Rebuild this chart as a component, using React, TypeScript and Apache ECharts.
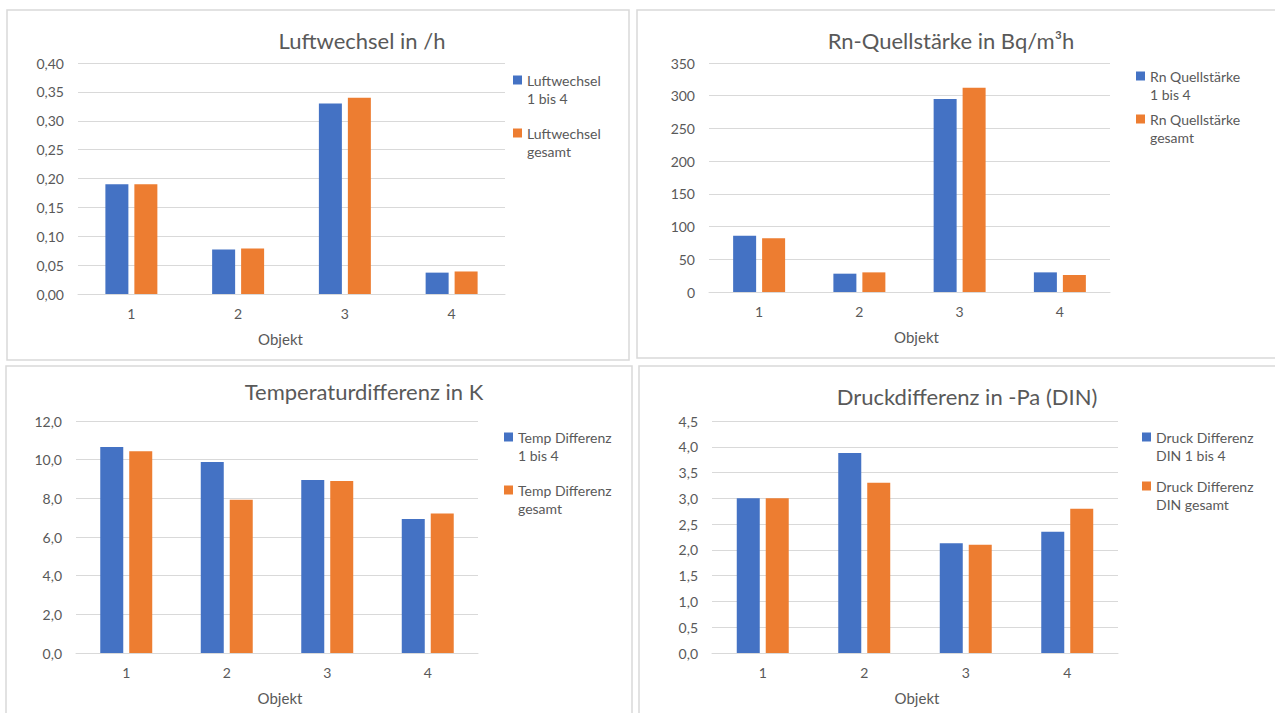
import React, { useEffect, useRef } from "react";
import * as echarts from "echarts";

const categories = ["1", "2", "3", "4"];

const luftName1 = "Luftwechsel\n1 bis 4";
const luftName2 = "Luftwechsel\ngesamt";
const luftwechsel14 = [0.19, 0.077, 0.33, 0.037];
const luftwechselGesamt = [0.19, 0.079, 0.34, 0.039];

const rnName1 = "Rn Quellstärke\n1 bis 4";
const rnName2 = "Rn Quellstärke\ngesamt";
const rn14 = [86, 28, 295, 30];
const rnGesamt = [82, 30, 312, 26];

const tempName1 = "Temp Differenz\n1 bis 4";
const tempName2 = "Temp Differenz\ngesamt";
const temp14 = [10.65, 9.88, 8.95, 6.93];
const tempGesamt = [10.43, 7.93, 8.9, 7.21];

const druckName1 = "Druck Differenz\nDIN 1 bis 4";
const druckName2 = "Druck Differenz\nDIN gesamt";
const druck14 = [3.0, 3.88, 2.13, 2.35];
const druckGesamt = [3.0, 3.3, 2.1, 2.8];

const titles = [
  "Luftwechsel in /h",
  "Rn-Quellstärke in Bq/m³h",
  "Temperaturdifferenz in K",
  "Druckdifferenz in -Pa (DIN)",
];
const xAxisTitle = "Objekt";

const BLUE = "#4472C4";
const ORANGE = "#ED7D31";
const TXT = "#595959";
const GRID = "#D9D9D9";
const FONT = "Lato, 'Open Sans', sans-serif";

export default function App() {
  const ref = useRef<HTMLDivElement>(null);
  useEffect(() => {
    if (!ref.current) return;
    const chart = echarts.init(ref.current, null, { renderer: "svg" });

    const grids = [
      { left: 78, top: 63, width: 427, height: 231 },
      { left: 709, top: 63, width: 401, height: 229 },
      { left: 76, top: 421, width: 402, height: 232 },
      { left: 712, top: 421, width: 406, height: 232 },
    ];
    const yCfg = [
      { max: 0.4, interval: 0.05, dec: 2 },
      { max: 350, interval: 50, dec: 0 },
      { max: 12, interval: 2, dec: 1 },
      { max: 4.5, interval: 0.5, dec: 1 },
    ];
    const nameShift = [22, -14, -6, -4];

    const titleDefs = [
      { x: 362, y: 41 },
      { x: 951, y: 41 },
      { x: 364, y: 392 },
      { x: 967, y: 397 },
    ];

    const legendDefs = [
      { name: luftName1, x: 513, y: 80 },
      { name: luftName2, x: 513, y: 133 },
      { name: rnName1, x: 1136, y: 76 },
      { name: rnName2, x: 1136, y: 119 },
      { name: tempName1, x: 504, y: 437 },
      { name: tempName2, x: 504, y: 490 },
      { name: druckName1, x: 1142, y: 437 },
      { name: druckName2, x: 1142, y: 486 },
    ];
    const LH = 18.5;

    const seriesDefs = [
      [luftName1, luftwechsel14, BLUE, 0],
      [luftName2, luftwechselGesamt, ORANGE, 0],
      [rnName1, rn14, BLUE, 1],
      [rnName2, rnGesamt, ORANGE, 1],
      [tempName1, temp14, BLUE, 2],
      [tempName2, tempGesamt, ORANGE, 2],
      [druckName1, druck14, BLUE, 3],
      [druckName2, druckGesamt, ORANGE, 3],
    ] as const;

    const option: any = {
      animation: false,
      backgroundColor: "#ffffff",
      textStyle: { fontFamily: FONT },
      title: titles.map((t, i) => ({
        text: t,
        left: titleDefs[i].x,
        top: titleDefs[i].y - 12,
        textAlign: "center",
        padding: 0,
        textStyle: { fontFamily: FONT, fontSize: 22, fontWeight: "normal", color: TXT },
      })),
      legend: legendDefs.map((l) => ({
        data: [l.name],
        left: l.x,
        top: l.y - LH * 1.5,
        padding: 0,
        icon: "rect",
        itemWidth: 9,
        itemHeight: 9,
        selectedMode: false,
        formatter: (name: string) => "\n" + name,
        textStyle: {
          fontFamily: FONT,
          fontSize: 14,
          color: TXT,
          lineHeight: LH,
        },
      })),
      grid: grids,
      xAxis: grids.map((_, i) => ({
        type: "category",
        gridIndex: i,
        data: categories,
        name: xAxisTitle,
        nameLocation: "middle",
        nameGap: 37,
        nameTextStyle: {
          fontFamily: FONT,
          fontSize: 15,
          color: TXT,
          padding: nameShift[i] > 0 ? [0, nameShift[i], 0, 0] : [0, 0, 0, -nameShift[i]],
        },
        axisLine: { show: true, lineStyle: { color: GRID, width: 1 } },
        axisTick: { show: false },
        axisLabel: { color: TXT, fontFamily: FONT, fontSize: 14, margin: 12 },
      })),
      yAxis: grids.map((_, i) => ({
        type: "value",
        gridIndex: i,
        min: 0,
        max: yCfg[i].max,
        interval: yCfg[i].interval,
        axisLine: { show: false },
        axisTick: { show: false },
        splitLine: { lineStyle: { color: GRID, width: 1 } },
        axisLabel: {
          color: TXT,
          fontFamily: FONT,
          fontSize: 14,
          margin: 14,
          formatter: (v: number) => v.toFixed(yCfg[i].dec).replace(".", ","),
        },
      })),
      series: seriesDefs.map(([name, data, color, gi]) => ({
        type: "bar",
        name,
        xAxisIndex: gi,
        yAxisIndex: gi,
        data: data as any,
        barWidth: 23,
        barGap: "26%",
        itemStyle: { color },
      })),
      graphic: [
        { type: "rect", shape: { x: 7, y: 10, width: 622, height: 350 }, style: { fill: "none", stroke: GRID, lineWidth: 1.5 }, silent: true },
        { type: "rect", shape: { x: 637, y: 10, width: 700, height: 348 }, style: { fill: "none", stroke: GRID, lineWidth: 1.5 }, silent: true },
        { type: "rect", shape: { x: 6, y: 366, width: 626, height: 400 }, style: { fill: "none", stroke: GRID, lineWidth: 1.5 }, silent: true },
        { type: "rect", shape: { x: 639, y: 366, width: 700, height: 400 }, style: { fill: "none", stroke: GRID, lineWidth: 1.5 }, silent: true },
      ],
    };
    chart.setOption(option);
    return () => chart.dispose();
  }, []);
  return (
    <div
      ref={ref}
      style={{ position: "absolute", left: 0, top: 0, width: 1275, height: 713 }}
    />
  );
}
